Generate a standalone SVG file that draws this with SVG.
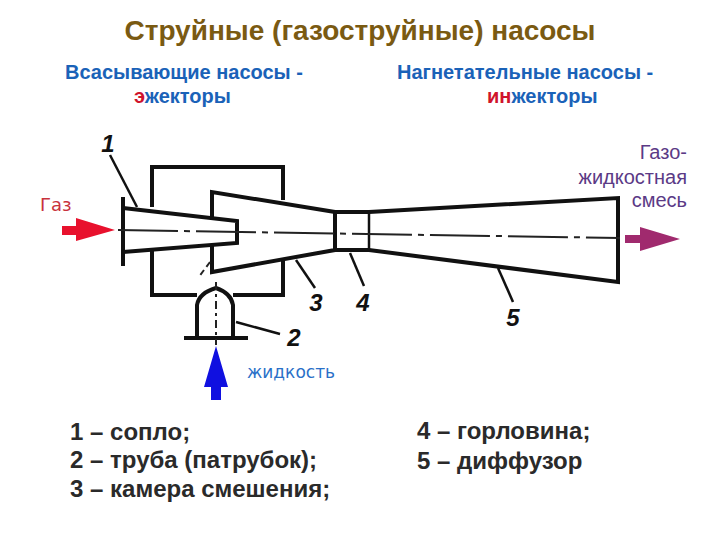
<svg xmlns="http://www.w3.org/2000/svg" width="720" height="540" viewBox="0 0 720 540">
<style>
text{font-family:"Liberation Sans",Arial,sans-serif}
.t{font-size:28px;font-weight:bold;fill:#7a5a12;text-anchor:middle}
.h{font-size:20px;font-weight:bold;fill:#1a62b8}
.r{fill:#d0142c}
.l{font-size:24px;font-weight:bold;fill:#2a2a2a;stroke:none}
.c{font-family:"DejaVu Sans",sans-serif;font-size:18px}
.n{font-family:"Liberation Sans",sans-serif;font-size:24px;font-weight:bold;font-style:italic;fill:#111;text-anchor:middle}
.s{fill:none;stroke:#111;stroke-width:4;stroke-linejoin:miter}
.m{fill:none;stroke:#111;stroke-width:2.5}
.d{fill:none;stroke:#222;stroke-width:2}
</style>
<rect width="720" height="540" fill="#fff"/>
<text class="t" x="360" y="40">Струйные (газоструйные) насосы</text>
<text class="h" x="65" y="79">Всасывающие насосы -</text>
<text class="h" x="134" y="103"><tspan class="r">э</tspan>жекторы</text>
<text class="h" x="397" y="79">Нагнетательные насосы -</text>
<text class="h" x="487" y="103"><tspan class="r">ин</tspan>жекторы</text>
<g id="body">
<path class="s" d="M152 207V167H283V200"/>
<path class="s" d="M152 250V295H197M233 295H283V260"/>
<path class="s" d="M212 219V192L335 212V250L212 272V245"/>
<path class="s" d="M335 212H369L618 198V282L369 250H335"/>
<path class="m" d="M369 211V250"/>
</g>
<g id="nozzle">
<path class="s" d="M123 197V266"/>
<path class="s" d="M123 208L237 221V243L123 252"/>
</g>
<g id="pipe">
<path class="s" d="M197 337V305Q199 293 216 288Q231 293 233 305V337"/>
<path class="s" d="M184 338H248" stroke-width="5"/>
</g>
<g id="axis">
<path class="d" stroke-dasharray="60 6 6 6" d="M118 230L620 238"/>
<path class="d" stroke-dasharray="8 4 3 4" d="M216 282V345"/>
<path class="d" stroke-dasharray="6 4" d="M210 262L198 278"/>
</g>
<g id="leaders">
<path class="m" d="M110 155L137 207"/>
<path class="m" d="M236 322L280 334"/>
<path class="m" d="M296 260L315 288"/>
<path class="m" d="M350 253L364 286"/>
<path class="m" d="M498 268L513 302"/>
</g>
<g id="numbers">
<text class="n" x="108" y="152">1</text>
<text class="n" x="294" y="346">2</text>
<text class="n" x="316" y="311">3</text>
<text class="n" x="363" y="311">4</text>
<text class="n" x="513" y="326">5</text>
</g>
<g id="arrow-gas"><path fill="#e8112d" d="M62 226H76V218L115 230L76 241V235H62Z"/></g>
<g id="arrow-liquid"><path fill="#1010e0" d="M216 346L228 387H221V400H211V387H204Z"/></g>
<g id="arrow-mix"><path fill="#a02a6e" d="M625 235H640V227L680 239L640 251V243H625Z"/></g>
<text class="c" x="40" y="211" fill="#c8323c">Газ</text>
<text class="c" x="247" y="378" fill="#2a70c8" style="font-size:17px">жидкость</text>
<g class="c" fill="#5b3a86" text-anchor="end" style="font-size:20px">
<text x="687" y="159">Газо-</text>
<text x="687" y="184">жидкостная</text>
<text x="687" y="207">смесь</text>
</g>
<text class="l" x="70" y="440">1 – сопло;</text>
<text class="l" x="70" y="468">2 – труба (патрубок);</text>
<text class="l" x="70" y="497">3 – камера смешения;</text>
<text class="l" x="417" y="439">4 – горловина;</text>
<text class="l" x="417" y="469">5 – диффузор</text>
</svg>
